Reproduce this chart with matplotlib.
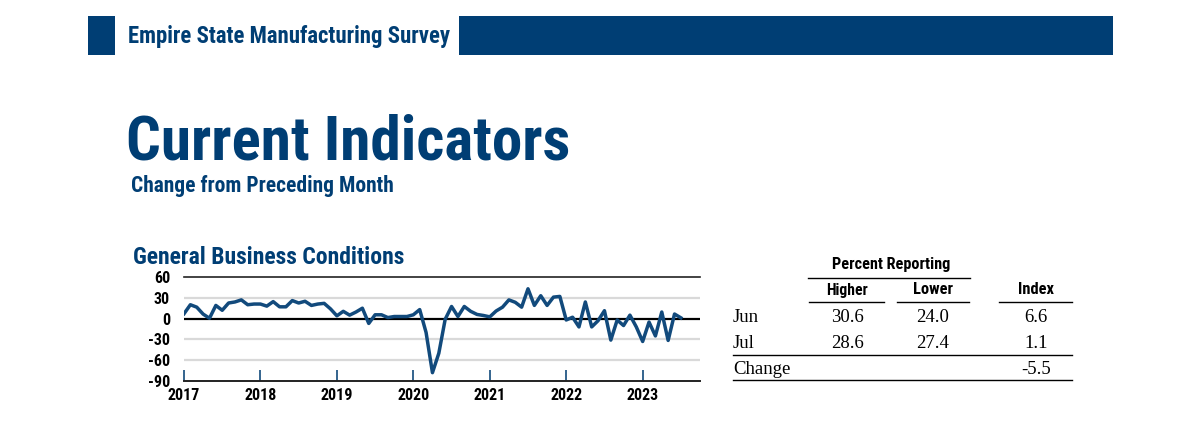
import matplotlib
matplotlib.use("Agg")
import matplotlib.pyplot as plt
from matplotlib import font_manager
from matplotlib.patches import Rectangle
from matplotlib.lines import Line2D

# ---------------- data ----------------
years = ["2017", "2018", "2019", "2020", "2021", "2022", "2023"]
index_2017 = [7, 20, 16.5, 6.5, 0.5, 19, 12, 22.5, 24, 27, 20, 21]
index_2018 = [21, 18, 24.5, 17, 17, 26, 22.5, 25, 19, 21, 22, 14]
index_2019 = [4, 10.5, 5, 9.5, 15, -7, 5.5, 5.5, 1.5, 3, 3, 3]
index_2020 = [5.5, 13, -20, -78, -50, -1, 17.5, 3, 17.5, 10.5, 6, 4.5]
index_2021 = [2.5, 11, 16.5, 27, 23.5, 16.5, 43, 19, 33, 19, 31, 32]
index_2022 = [-2, 2, -12, 24, -12, -3, 11.4, -31, -2, -10, 5, -12]
index_2023 = [-33, -5, -25, 9.5, -31.5, 6.6, 1.1]
series = index_2017 + index_2018 + index_2019 + index_2020 + index_2021 + index_2022 + index_2023
y_ticks = [60, 30, 0, -30, -60, -90]

table_rows = ["Jun", "Jul", "Change"]
higher = ["30.6", "28.6", ""]
lower = ["24.0", "27.4", ""]
index_vals = ["6.6", "1.1", "-5.5"]

# ---------------- fonts ----------------
fonts = font_manager.fontManager.ttflist
names = {f.name for f in fonts}
cond = None
for cand in ["Liberation Sans Narrow", "Roboto Condensed", "Open Sans Condensed", "DejaVu Sans Condensed"]:
    if cand in names:
        cond = cand
        break
stretch = "normal"
if cond is None:
    if any(f.name == "DejaVu Sans" and f.stretch in ("condensed", 'semi-condensed') for f in fonts):
        cond, stretch = "DejaVu Sans", "condensed"
    elif "Roboto" in names:
        cond = "Roboto"
    else:
        cond = "Liberation Sans"
serif = "Liberation Serif" if "Liberation Serif" in names else "DejaVu Serif"

NAVY = "#003E74"
LINE = "#124A7C"

W, H = 1200, 437
fig = plt.figure(figsize=(W / 100, H / 100), dpi=100)
fig.patch.set_facecolor("white")
renderer = fig.canvas.get_renderer()


def fx(x):
    return x / W


def fy(y):
    return 1 - y / H


def txt(x, y, s, fit=None, maxsize=None, **kw):
    t = fig.text(fx(x), fy(y), s, **kw)
    if fit is not None:
        w = t.get_window_extent(renderer).width
        size = t.get_fontsize() * fit / w
        if maxsize is not None:
            size = min(size, maxsize)
        t.set_fontsize(size)
    return t


def hline(x0, x1, y, lw=1.0, color="black"):
    fig.add_artist(Line2D([fx(x0), fx(x1)], [fy(y), fy(y)], transform=fig.transFigure,
                          color=color, lw=lw))


C = dict(family=cond, fontstretch=stretch, fontweight="bold")

# header bars
fig.add_artist(Rectangle((fx(88), fy(55)), fx(115) - fx(88), fy(16) - fy(55),
                         transform=fig.transFigure, color=NAVY, lw=0))
fig.add_artist(Rectangle((fx(459), fy(55)), fx(1113) - fx(459), fy(16) - fy(55),
                         transform=fig.transFigure, color=NAVY, lw=0))
txt(128, 36, "Empire State Manufacturing Survey", fit=322, maxsize=17, fontsize=15,
    color=NAVY, ha="left", va="center", **C)

# titles
txt(126, 142, "Current Indicators", fit=454, maxsize=44, fontsize=40,
    color=NAVY, ha="left", va="center", **C)
txt(131, 186, "Change from Preceding Month", fit=280, maxsize=15.5, fontsize=14,
    color=NAVY, ha="left", va="center", **C)
txt(133, 257, "General Business Conditions", fit=280, maxsize=17, fontsize=15,
    color=NAVY, ha="left", va="center", **C)

# ---------------- chart ----------------
ax_left, ax_right, ax_top, ax_bot = 184, 700, 277, 381
ax = fig.add_axes([fx(ax_left), fy(ax_bot), fx(ax_right) - fx(ax_left), fy(ax_top) - fy(ax_bot)])
ax.set_xlim(0, 81)
ax.set_ylim(-90, 60)
for s in ["left", "right"]:
    ax.spines[s].set_visible(False)
ax.spines["top"].set_color("#222222")
ax.spines["top"].set_linewidth(1.2)
ax.spines["bottom"].set_color("#222222")
ax.spines["bottom"].set_linewidth(1.4)
for v in [30, -30, -60]:
    ax.axhline(v, color="#d9d9d9", lw=1.6, zorder=0)
ax.axhline(0, color="black", lw=1.6, zorder=1)
ax.plot(range(len(series)), series, color=LINE, lw=2.5, zorder=3)
ax.set_yticks(y_ticks)
ax.set_yticklabels([str(v) for v in y_ticks], fontsize=11.5, **C)
ax.tick_params(axis="y", length=0, pad=10)
ax.set_xticks([12 * i for i in range(len(years))])
ax.set_xticklabels(years, fontsize=11.5, **C)
ax.tick_params(axis="x", direction="in", length=8, width=1.2, color=LINE, pad=5)

# ---------------- table ----------------
TH = dict(ha="center", va="center", color="black", **C)
txt(891, 265, "Percent Reporting", fit=118, maxsize=14, fontsize=12, **TH)
hline(808, 970, 278)
txt(847, 290, "Higher", fit=42, maxsize=14, fontsize=12, **TH)
txt(933, 290, "Lower", fit=40, maxsize=14, fontsize=12, **TH)
txt(1036, 290, "Index", fit=36, maxsize=14, fontsize=12, **TH)
hline(809, 884, 302)
hline(897, 969, 302)
hline(999, 1072, 302)

row_y = [318, 344, 369]
for i, lab in enumerate(table_rows):
    txt(733, row_y[i], lab, family=serif, fontsize=13.5, ha="left", va="center")
    txt(847, row_y[i], higher[i], family=serif, fontsize=13.5, ha="center", va="center")
    txt(933, row_y[i], lower[i], family=serif, fontsize=13.5, ha="center", va="center")
    txt(1036, row_y[i], index_vals[i], family=serif, fontsize=13.5, ha="center", va="center")
hline(733, 1072, 355)
hline(733, 1072, 380)

fig.savefig("out.png", dpi=100, facecolor="white")
